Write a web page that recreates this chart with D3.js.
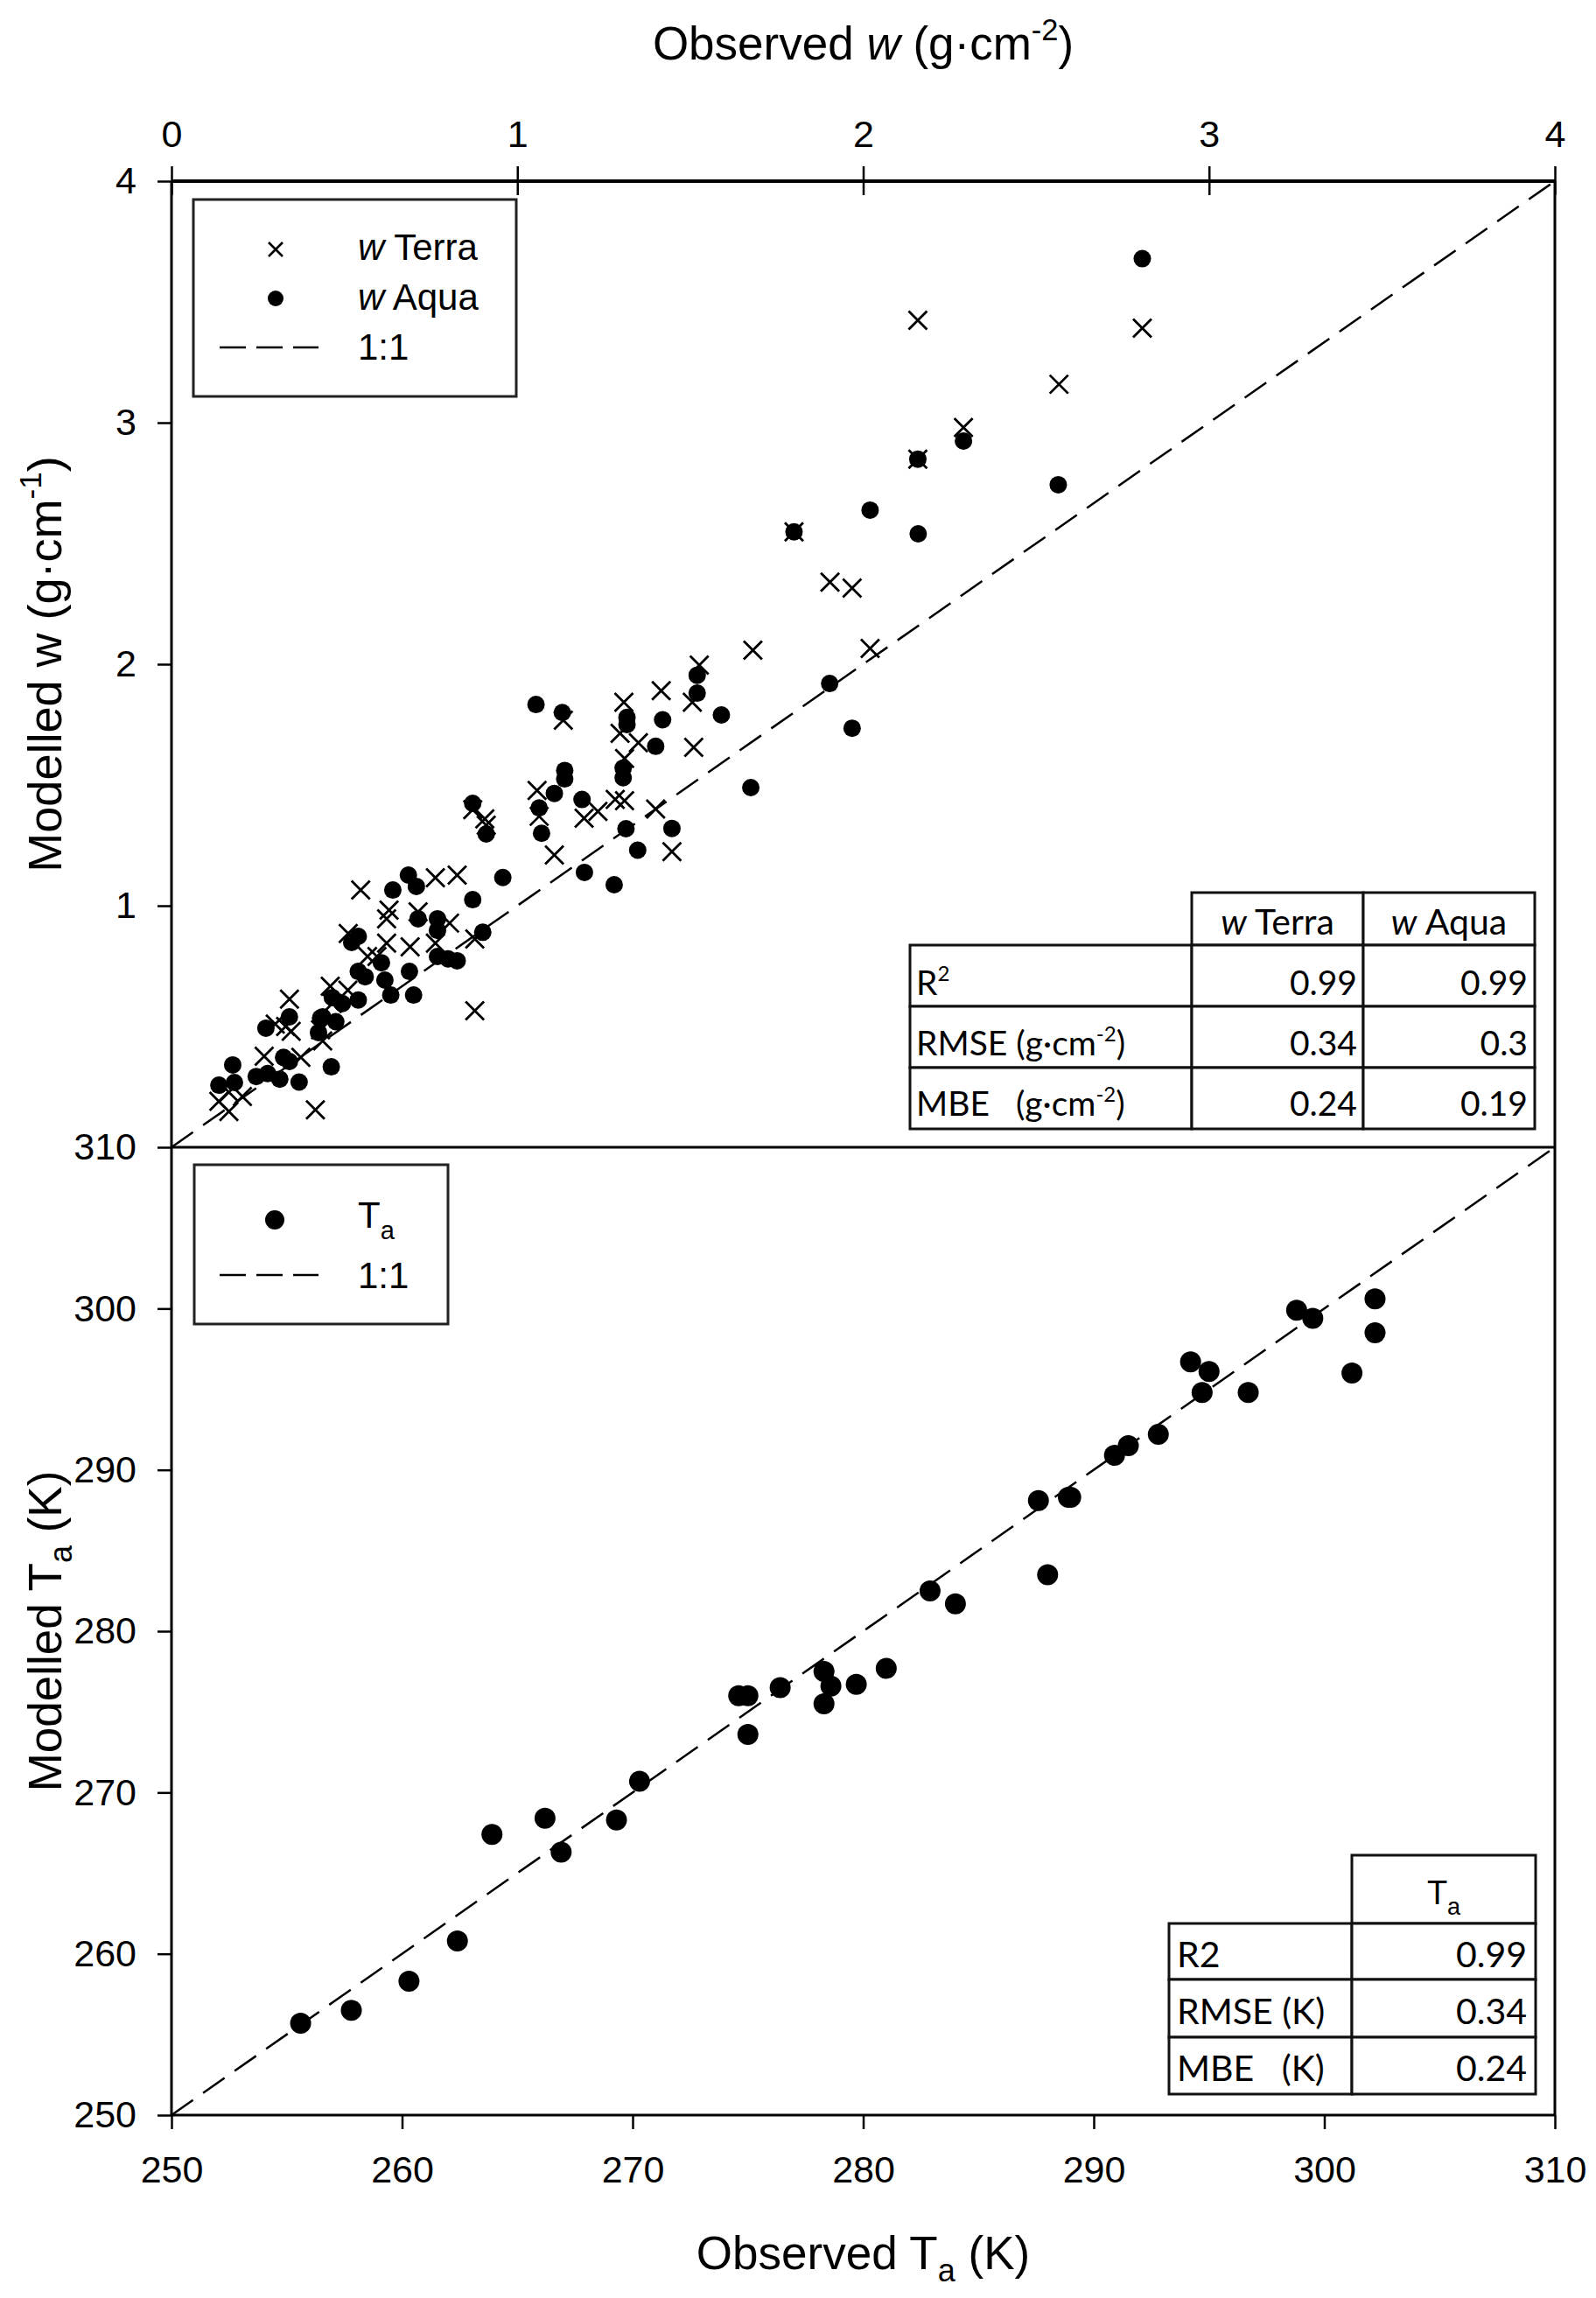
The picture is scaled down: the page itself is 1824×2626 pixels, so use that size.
<!DOCTYPE html>
<html><head><meta charset="utf-8">
<script src="https://cdn.jsdelivr.net/npm/d3@7"></script>
<style>body{margin:0;background:#fff}</style>
</head><body>
<script>
// ---------- data ----------
const wTicks = [0, 1, 2, 3, 4];
const tTicks = [250, 260, 270, 280, 290, 300, 310];
const terraObs = [0.137,0.166,0.166,0.205,0.268,0.374,0.30,0.33,0.346,0.341,0.416,0.431,0.437,0.459,0.51,0.465,0.511,0.567,0.594,0.547,0.622,0.629,0.622,0.69,0.713,0.763,0.826,0.763,0.804,0.877,0.877,0.871,0.906,0.91,1.057,1.063,1.107,1.133,1.193,1.233,1.283,1.31,1.297,1.35,1.308,1.31,1.40,1.447,1.416,1.506,1.51,1.526,1.681,1.80,1.904,1.968,2.02,2.158,2.158,2.29,2.566,2.807];
const terraMod = [0.19,0.148,0.228,0.21,0.377,0.372,0.51,0.50,0.48,0.613,0.155,0.486,0.44,0.667,0.65,0.595,0.885,0.79,0.79,1.065,0.946,0.982,0.845,0.83,0.975,1.116,1.127,0.845,0.928,0.862,0.565,1.398,1.36,1.333,1.477,1.37,1.21,1.768,1.362,1.39,1.44,1.435,1.714,1.675,1.842,1.61,1.40,1.224,1.89,1.842,1.656,1.996,2.058,2.548,2.34,2.315,2.065,2.849,3.424,2.98,3.159,3.391];
const aquaObs = [0.137,0.177,0.182,0.245,0.278,0.313,0.324,0.341,0.369,0.462,0.273,0.341,0.425,0.437,0.431,0.465,0.494,0.54,0.475,0.521,0.54,0.54,0.56,0.607,0.617,0.634,0.688,0.70,0.64,0.685,0.708,0.713,0.769,0.769,0.769,0.826,0.80,0.90,0.871,0.871,0.91,0.958,1.054,1.13,1.137,1.137,1.107,1.063,1.07,1.187,1.194,1.28,1.306,1.306,1.317,1.317,1.314,1.348,1.42,1.40,1.447,1.59,1.52,1.52,1.675,1.80,1.903,1.968,2.02,2.159,2.158,2.29,2.564,2.807];
const aquaMod = [0.257,0.341,0.268,0.293,0.305,0.282,0.372,0.355,0.27,0.333,0.493,0.54,0.475,0.54,0.535,0.62,0.595,0.61,0.52,0.848,0.873,0.728,0.706,0.764,0.692,0.63,0.728,0.63,1.065,1.127,1.08,0.946,0.946,0.898,0.79,0.772,0.78,0.89,1.025,1.424,1.297,1.117,1.833,1.80,1.56,1.525,1.465,1.405,1.30,1.44,1.138,1.087,1.57,1.53,1.78,1.75,1.319,1.23,1.77,1.66,1.32,1.79,1.954,1.88,1.489,2.548,1.92,1.735,2.638,2.54,2.849,2.924,2.743,3.679];
const taObs = [255.6,257.8,260.3,262.4,263.9,266.2,266.9,269.3,270.3,274.6,275.0,275.0,276.4,278.3,278.3,278.6,279.7,281.0,282.9,284.0,287.6,288.0,289.0,288.9,290.9,291.5,292.8,294.2,294.7,295.0,296.7,298.8,299.5,301.2,302.2,302.2];
const taMod = [255.7,256.5,258.3,260.8,267.4,268.4,266.3,268.3,270.7,276.0,276.0,273.6,276.5,277.5,275.5,276.6,276.7,277.7,282.5,281.7,288.1,283.5,288.3,288.3,290.9,291.5,292.2,296.7,294.8,296.1,294.8,299.9,299.4,296.0,300.6,298.5];
const wStatRows = ["R2", "RMSE", "MBE"];
const wTerraStats = ["0.99", "0.34", "0.24"];
const wAquaStats = ["0.99", "0.3", "0.19"];
const taStats = ["0.99", "0.34", "0.24"];

// ---------- layout ----------
const W = 1824, H = 2626;
const L = 196, R = 1777, T1 = 207, MID = 1311, B2 = 2417;
const AX = "'Liberation Sans', Arial, sans-serif";
const TB = "Lato, 'Open Sans', sans-serif";

const svg = d3.select("body").append("svg").attr("width", W).attr("height", H)
  .style("background", "#fff");
svg.append("rect").attr("width", W).attr("height", H).attr("fill", "#fff");

const xw = d3.scaleLinear().domain([0, 4]).range([L, R]);
const yw = d3.scaleLinear().domain([0, 4]).range([MID, T1]);
const xt = d3.scaleLinear().domain([250, 310]).range([L, R]);
const yt = d3.scaleLinear().domain([250, 310]).range([B2, MID]);

function styleAxis(g) {
  g.select(".domain").remove();
  g.selectAll(".tick line").attr("stroke", "#000").attr("stroke-width", 2.5);
  g.selectAll(".tick text").attr("fill", "#000").style("font-family", AX).style("font-size", "43px");
}

// top axis (observed w)
const gTop = svg.append("g").attr("transform", `translate(0,${T1})`)
  .call(d3.axisTop(xw).tickValues(wTicks).tickFormat(d3.format("d")).tickSize(17).tickPadding(22));
styleAxis(gTop);
gTop.selectAll(".tick line").attr("y2", -17).attr("y1", 16);

// left axis top panel
const gLw = svg.append("g").attr("transform", `translate(${L},0)`)
  .call(d3.axisLeft(yw).tickValues([1, 2, 3, 4]).tickFormat(d3.format("d")).tickSize(16).tickPadding(24));
styleAxis(gLw);

// left axis bottom panel
const gLt = svg.append("g").attr("transform", `translate(${L},0)`)
  .call(d3.axisLeft(yt).tickValues(tTicks).tickFormat(d3.format("d")).tickSize(16).tickPadding(24));
styleAxis(gLt);

// bottom axis
const gB = svg.append("g").attr("transform", `translate(0,${B2})`)
  .call(d3.axisBottom(xt).tickValues(tTicks).tickFormat(d3.format("d")).tickSize(16).tickPadding(30));
styleAxis(gB);

// frame lines
const frame = svg.append("g").attr("stroke", "#000").attr("stroke-width", 3).attr("fill", "none");
frame.append("line").attr("x1", L).attr("x2", R).attr("y1", T1).attr("y2", T1).attr("stroke-width", 4);
frame.append("line").attr("x1", L).attr("x2", R).attr("y1", MID).attr("y2", MID);
frame.append("line").attr("x1", L).attr("x2", R).attr("y1", B2).attr("y2", B2);
frame.append("line").attr("x1", L).attr("x2", L).attr("y1", T1).attr("y2", B2);
frame.append("line").attr("x1", R).attr("x2", R).attr("y1", T1).attr("y2", B2);

// 1:1 lines
svg.append("line").attr("x1", xw(0)).attr("y1", yw(0)).attr("x2", xw(4)).attr("y2", yw(4))
  .attr("stroke", "#000").attr("stroke-width", 2.5).attr("stroke-dasharray", "30,14");
svg.append("line").attr("x1", xt(250)).attr("y1", yt(250)).attr("x2", xt(310)).attr("y2", yt(310))
  .attr("stroke", "#000").attr("stroke-width", 2.5).attr("stroke-dasharray", "30,14");

// markers
const xs = 10.5;
const crossPath = `M${-xs},${-xs}L${xs},${xs}M${-xs},${xs}L${xs},${-xs}`;
svg.append("g").selectAll("path").data(d3.range(terraObs.length)).join("path")
  .attr("transform", i => `translate(${xw(terraObs[i])},${yw(terraMod[i])})`)
  .attr("d", crossPath).attr("stroke", "#000").attr("stroke-width", 2.8).attr("fill", "none");
svg.append("g").selectAll("circle").data(d3.range(aquaObs.length)).join("circle")
  .attr("cx", i => xw(aquaObs[i])).attr("cy", i => yw(aquaMod[i])).attr("r", 10).attr("fill", "#000");
svg.append("g").selectAll("circle").data(d3.range(taObs.length)).join("circle")
  .attr("cx", i => xt(taObs[i])).attr("cy", i => yt(taMod[i])).attr("r", 12).attr("fill", "#000");

// ---------- titles ----------
function sup(t, base, s) {
  t.append("tspan").text(s).attr("dy", -base * 0.42).style("font-size", (base * 0.65) + "px");
}
let t1 = svg.append("text").attr("x", (L + R) / 2).attr("y", 68).attr("text-anchor", "middle")
  .style("font-family", AX).style("font-size", "53px");
t1.append("tspan").text("Observed ");
t1.append("tspan").text("w").style("font-style", "italic");
t1.append("tspan").text(" (g·cm");
sup(t1, 53, "-2");
t1.append("tspan").text(")").attr("dy", 53 * 0.42);

let t2 = svg.append("text").attr("x", (L + R) / 2).attr("y", 2593).attr("text-anchor", "middle")
  .style("font-family", AX).style("font-size", "53px");
t2.append("tspan").text("Observed T");
t2.append("tspan").text("a").attr("dy", 14).style("font-size", "36px");
t2.append("tspan").text(" (K)").attr("dy", -14);

const YTX = 70;
let t3 = svg.append("text").attr("transform", `translate(${YTX},${(T1 + MID) / 2}) rotate(-90)`)
  .attr("text-anchor", "middle").style("font-family", AX).style("font-size", "54px");
t3.append("tspan").text("Modelled w (g·cm");
sup(t3, 54, "-1");
t3.append("tspan").text(")").attr("dy", 54 * 0.42);

let t4 = svg.append("text").attr("transform", `translate(${YTX},${(MID + B2) / 2}) rotate(-90)`)
  .attr("text-anchor", "middle").style("font-family", AX).style("font-size", "53px");
t4.append("tspan").text("Modelled T");
t4.append("tspan").text("a").attr("dy", 12).style("font-size", "36px");
t4.append("tspan").text(" (K)").attr("dy", -12);

// ---------- legends ----------
const lg1 = svg.append("g");
lg1.append("rect").attr("x", 221).attr("y", 228).attr("width", 369).attr("height", 225)
  .attr("fill", "#fff").attr("stroke", "#222").attr("stroke-width", 3);
lg1.append("path").attr("transform", "translate(315,285)")
  .attr("d", "M-8,-8L8,8M-8,8L8,-8").attr("stroke", "#000").attr("stroke-width", 2.5);
lg1.append("circle").attr("cx", 315).attr("cy", 341).attr("r", 9).attr("fill", "#000");
lg1.append("line").attr("x1", 251).attr("x2", 364).attr("y1", 397).attr("y2", 397)
  .attr("stroke", "#000").attr("stroke-width", 2.5).attr("stroke-dasharray", "30,12");
function legText(g, x, y, parts) {
  const t = g.append("text").attr("x", x).attr("y", y).style("font-family", AX).style("font-size", "42px");
  parts.forEach(p => { const s = t.append("tspan").text(p[0]); if (p[1]) s.style("font-style", "italic"); });
  return t;
}
legText(lg1, 409, 297, [["w", true], [" Terra"]]);
legText(lg1, 409, 354, [["w", true], [" Aqua"]]);
legText(lg1, 409, 411, [["1:1"]]);

const lg2 = svg.append("g");
lg2.append("rect").attr("x", 222).attr("y", 1331).attr("width", 290).attr("height", 182)
  .attr("fill", "#fff").attr("stroke", "#222").attr("stroke-width", 3);
lg2.append("circle").attr("cx", 314).attr("cy", 1394).attr("r", 11).attr("fill", "#000");
lg2.append("line").attr("x1", 251).attr("x2", 364).attr("y1", 1457).attr("y2", 1457)
  .attr("stroke", "#000").attr("stroke-width", 2.5).attr("stroke-dasharray", "30,12");
const lt = legText(lg2, 409, 1403, [["T"]]);
lt.append("tspan").text("a").attr("dy", 13).style("font-size", "29px");
legText(lg2, 409, 1472, [["1:1"]]);

// ---------- tables ----------
function cellRect(g, x0, y0, x1, y1) {
  g.append("rect").attr("x", x0).attr("y", y0).attr("width", x1 - x0).attr("height", y1 - y0)
    .attr("fill", "#fff").attr("stroke", "#111").attr("stroke-width", 3);
}
function tText(g, x, y, anchor, size) {
  return g.append("text").attr("x", x).attr("y", y).attr("text-anchor", anchor)
    .style("font-family", TB).style("font-size", size + "px").attr("fill", "#000");
}
// w table
const tb1 = svg.append("g");
const c1 = [1040, 1362, 1558, 1754];
const r1 = [1020, 1080, 1150, 1220, 1290];
cellRect(tb1, c1[1], r1[0], c1[2], r1[1]);
cellRect(tb1, c1[2], r1[0], c1[3], r1[1]);
for (let i = 0; i < 3; i++) {
  cellRect(tb1, c1[0], r1[i + 1], c1[1], r1[i + 2]);
  cellRect(tb1, c1[1], r1[i + 1], c1[2], r1[i + 2]);
  cellRect(tb1, c1[2], r1[i + 1], c1[3], r1[i + 2]);
}
let h1 = tText(tb1, (c1[1] + c1[2]) / 2, 1068, "middle", 41);
h1.append("tspan").text("w").style("font-style", "italic"); h1.append("tspan").text(" Terra");
let h2 = tText(tb1, (c1[2] + c1[3]) / 2, 1068, "middle", 41);
h2.append("tspan").text("w").style("font-style", "italic"); h2.append("tspan").text(" Aqua");
const rowBase1 = [1137, 1206, 1275];
const rowLab1 = [
  t => { t.append("tspan").text("R"); t.append("tspan").text("2").attr("dy", -16).style("font-size", "24px"); },
  t => { t.append("tspan").text("RMSE (g·cm"); t.append("tspan").text("-2").attr("dy", -16).style("font-size", "24px"); t.append("tspan").text(")").attr("dy", 16); },
  t => { t.append("tspan").text("MBE   (g·cm").attr("xml:space", "preserve"); t.append("tspan").text("-2").attr("dy", -16).style("font-size", "24px"); t.append("tspan").text(")").attr("dy", 16); }
];
wStatRows.forEach((r, i) => {
  const t = tText(tb1, 1047, rowBase1[i], "start", 39).style("white-space", "pre");
  rowLab1[i](t);
  tText(tb1, 1551, rowBase1[i], "end", 39).text(wTerraStats[i]);
  tText(tb1, 1746, rowBase1[i], "end", 39).text(wAquaStats[i]);
});

// Ta table
const tb2 = svg.append("g");
const c2 = [1336, 1545, 1755];
const r2 = [2120, 2198, 2262, 2328, 2393];
cellRect(tb2, c2[1], r2[0], c2[2], r2[1]);
for (let i = 0; i < 3; i++) {
  cellRect(tb2, c2[0], r2[i + 1], c2[1], r2[i + 2]);
  cellRect(tb2, c2[1], r2[i + 1], c2[2], r2[i + 2]);
}
let h3 = svg.append("text").attr("x", 1650).attr("y", 2176).attr("text-anchor", "middle")
  .style("font-family", AX).style("font-size", "38px");
h3.append("tspan").text("T"); h3.append("tspan").text("a").attr("dy", 12).style("font-size", "27px");
const rowLab2 = ["R2", "RMSE (K)", "MBE   (K)"];
const rowBase2 = [2248, 2313, 2378];
rowLab2.forEach((r, i) => {
  tText(tb2, 1345, rowBase2[i], "start", 41).style("white-space", "pre").text(r);
  tText(tb2, 1745, rowBase2[i], "end", 41).text(taStats[i]);
});
</script>
</body></html>
